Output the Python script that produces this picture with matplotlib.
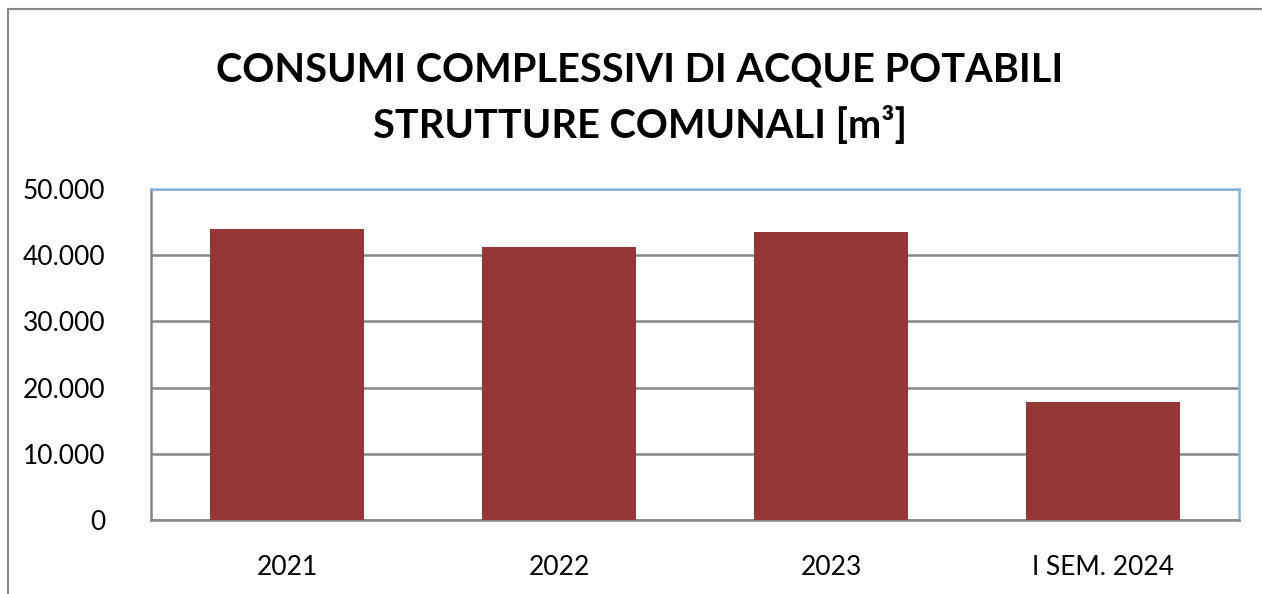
import matplotlib.pyplot as plt
from matplotlib.patches import Rectangle
from matplotlib.ticker import FuncFormatter

categories = ['2021', '2022', '2023', 'I SEM. 2024']
consumi = [43900, 41200, 43500, 17800]
y_ticks = [0, 10000, 20000, 30000, 40000, 50000]

plt.rcParams['font.family'] = ['Lato', 'DejaVu Sans']

W, H = 1262, 594
fig = plt.figure(figsize=(W / 100, H / 100), dpi=100)

# outer chart border (cut off at right and bottom)
fig.patches.append(Rectangle((8 / W, -0.1), 1.2, 1 - 9 / H + 0.1, transform=fig.transFigure,
                             fill=False, edgecolor='#868686', linewidth=1.5))

ax = fig.add_axes([151 / W, 1 - 520 / H, (1239 - 151) / W, (520 - 189) / H])

x = range(len(categories))
ax.bar(x, consumi, width=0.565, color='#953735', zorder=3)

ax.set_xlim(-0.5, len(categories) - 0.5)
ax.set_ylim(0, 50000)
ax.set_yticks(y_ticks)
ax.yaxis.set_major_formatter(FuncFormatter(lambda v, p: f'{int(v):,}'.replace(',', '.')))
ax.set_xticks(list(x))
ax.set_xticklabels(categories)
ax.tick_params(axis='both', labelsize=19, length=0)
ax.tick_params(axis='y', pad=33)
ax.tick_params(axis='x', pad=25)

ax.grid(axis='y', color='#868686', linewidth=1.8, zorder=0)
for s in ['top', 'right']:
    ax.spines[s].set_color('#8DB3E2')
    ax.spines[s].set_linewidth(1.8)
for s in ['left', 'bottom']:
    ax.spines[s].set_color('#868686')
    ax.spines[s].set_linewidth(1.8)

fig.text(640 / W, 1 - 70 / H, 'CONSUMI COMPLESSIVI DI ACQUE POTABILI', ha='center', va='center',
         fontsize=28.6, fontweight='bold')
fig.text(640 / W, 1 - 126 / H, 'STRUTTURE COMUNALI [m³]', ha='center', va='center',
         fontsize=28.6, fontweight='bold')

fig.savefig('out.png', dpi=100)
